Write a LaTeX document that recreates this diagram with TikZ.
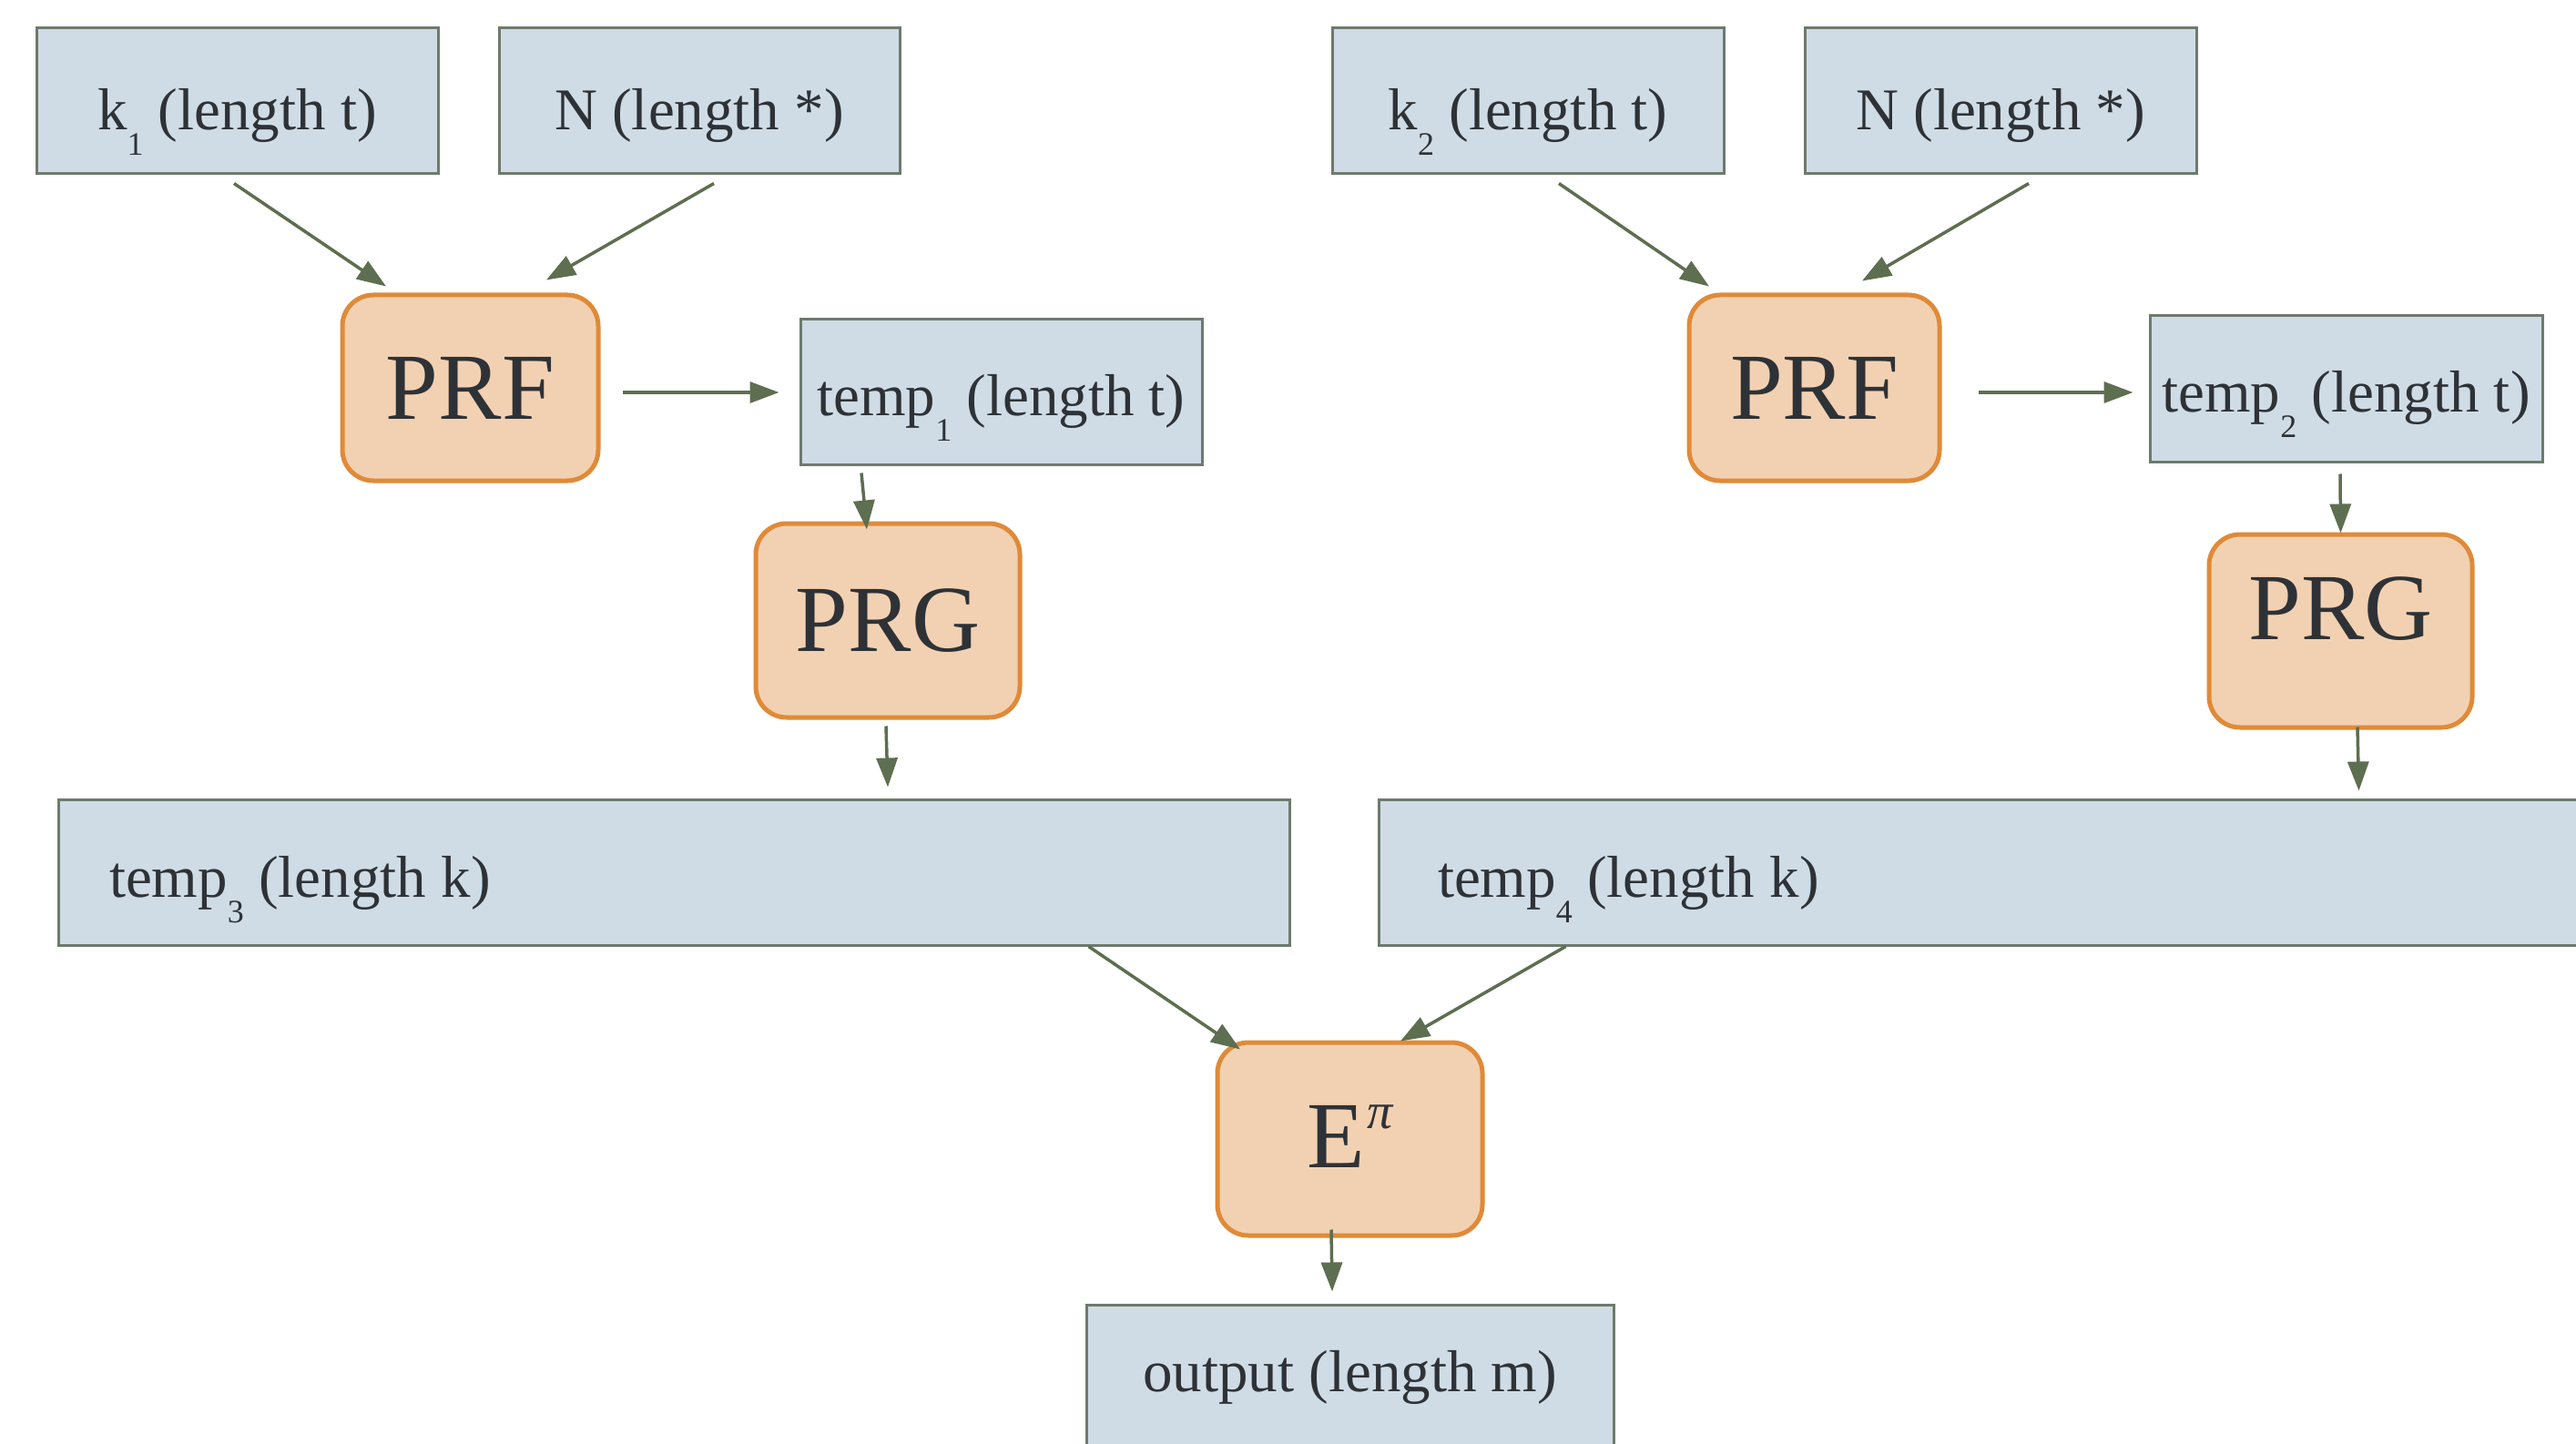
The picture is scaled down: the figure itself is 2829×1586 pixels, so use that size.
\documentclass[tikz,border=0pt]{standalone}
\usepackage{fontspec}
\setmainfont{Liberation Serif}
\usetikzlibrary{arrows.meta}

\definecolor{boxfill}{RGB}{207,220,230}
\definecolor{boxline}{RGB}{110,122,108}
\definecolor{opfill}{RGB}{242,209,178}
\definecolor{opline}{RGB}{224,138,56}
\definecolor{arrowc}{RGB}{94,110,80}
\definecolor{ink}{RGB}{46,50,54}

\newcommand\lblfont{\fontsize{65}{78}\selectfont}
\newcommand\opfont{\fontsize{104}{120}\selectfont}
\newcommand\lowdig[1]{\raisebox{-28pt}{\fontsize{36}{40}\selectfont #1}}
\newcommand\highpi{\hspace{3pt}\raisebox{43pt}{\fontsize{56}{60}\selectfont\itshape π}}

\tikzset{
  databox/.style={draw=boxline, fill=boxfill, line width=3pt, inner sep=0pt,
    font=\lblfont, text=ink},
  opbox/.style={draw=opline, fill=opfill, line width=5pt, rounded corners=34pt,
    inner sep=0pt, font=\opfont, text=ink},
  arr/.style={draw=arrowc, line width=3.5pt, -{Triangle[length=32pt,width=23pt]}}
}

\begin{document}
\begin{tikzpicture}[x=1pt, y=-1pt]
\path[use as bounding box, fill=white] (0,0) rectangle (2829,1586);
\clip (0,0) rectangle (2829,1586);

% inputs
\node[databox, minimum width=441pt, minimum height=160pt, text height=64pt, text depth=0pt]
  (k1) at (260.5,111) {k\lowdig{1} (length t)};
\node[databox, minimum width=440pt, minimum height=160pt, text height=64pt, text depth=0pt]
  (n1) at (768,111) {N (length *)};
\node[databox, minimum width=430pt, minimum height=160pt, text height=64pt, text depth=0pt]
  (k2) at (1678,111) {k\lowdig{2} (length t)};
\node[databox, minimum width=430pt, minimum height=160pt, text height=64pt, text depth=0pt]
  (n2) at (2197,111) {N (length *)};

% PRF stage
\node[opbox, minimum width=281pt, minimum height=204pt, text height=68pt, text depth=0pt]
  (prf1) at (516.5,426) {PRF};
\node[opbox, minimum width=275pt, minimum height=204pt, text height=68pt, text depth=0pt]
  (prf2) at (1992.5,426) {PRF};

\node[databox, minimum width=441pt, minimum height=159pt, text height=52pt, text depth=0pt]
  (t1) at (1099.5,430.5) {temp\lowdig{1} (length t)};
\node[databox, minimum width=431pt, minimum height=160pt, text height=50pt, text depth=0pt]
  (t2) at (2576.5,427) {temp\lowdig{2} (length t)};

% PRG stage
\node[opbox, minimum width=290pt, minimum height=213pt, text height=68pt, text depth=0pt]
  (prg1) at (975,681.5) {PRG};
\node[opbox, minimum width=289pt, minimum height=212pt, text height=18pt, text depth=0pt]
  (prg2) at (2570.5,693) {PRG};

\node[databox, minimum width=1352pt, minimum height=160pt, text height=54pt, text depth=0pt]
  (t3) at (740,958) {\makebox[1240pt][l]{temp\lowdig{3} (length k)}};
\node[databox, minimum width=1386pt, minimum height=160pt, text height=54pt, text depth=0pt]
  (t4) at (2207,958) {\makebox[1256pt][l]{temp\lowdig{4} (length k)}};

% combiner and output
\node[opbox, minimum width=291pt, minimum height=212pt, text height=62pt, text depth=0pt]
  (enc) at (1482.5,1251) {E\highpi\hspace{24pt}};
\node[databox, minimum width=579pt, minimum height=158pt, text height=32pt, text depth=0pt]
  (out) at (1482.5,1512) {output (length m)};

% connectors
\draw[arr] ([xshift=-3.5pt,yshift=-9pt]k1.south) -- ([xshift=-92.5pt,yshift=7pt]prf1.north);
\draw[arr] ([xshift=16pt,yshift=-9pt]n1.south) -- ([xshift=83.5pt,yshift=14pt]prf1.north);
\draw[arr] ([xshift=34pt,yshift=-9pt]k2.south) -- ([xshift=-115.5pt,yshift=7pt]prf2.north);
\draw[arr] ([xshift=31pt,yshift=-9pt]n2.south) -- ([xshift=52.5pt,yshift=13pt]prf2.north);

\draw[arr] ([xshift=24pt,yshift=-5pt]prf1.east) -- ([xshift=-22pt,yshift=-0.5pt]t1.west);
\draw[arr] ([xshift=40pt,yshift=-5pt]prf2.east) -- ([xshift=-17pt,yshift=-4pt]t2.west);

\draw[arr] ([xshift=-153.5pt,yshift=-8pt]t1.south) -- ([xshift=-23pt,yshift=-9pt]prg1.north);
\draw[arr] ([xshift=-6.5pt,yshift=-12pt]t2.south) -- ([xshift=0pt,yshift=-1pt]prg2.north);

\draw[arr] ([xshift=-2pt,yshift=-7pt]prg1.south) -- ([xshift=235pt,yshift=12pt]t3.north);
\draw[arr] ([xshift=18.5pt,yshift=3pt]prg2.south) -- ([xshift=1078pt,yshift=8pt]t4.north west);

\draw[arr] ([xshift=-222pt]t3.south east) -- ([xshift=-120.5pt,yshift=-10pt]enc.north);
\draw[arr] ([xshift=207pt]t4.south west) -- ([xshift=55.5pt,yshift=-1pt]enc.north);

\draw[arr] ([xshift=-20.5pt,yshift=9pt]enc.south) -- ([xshift=-19.5pt,yshift=13pt]out.north);
\end{tikzpicture}
\end{document}
